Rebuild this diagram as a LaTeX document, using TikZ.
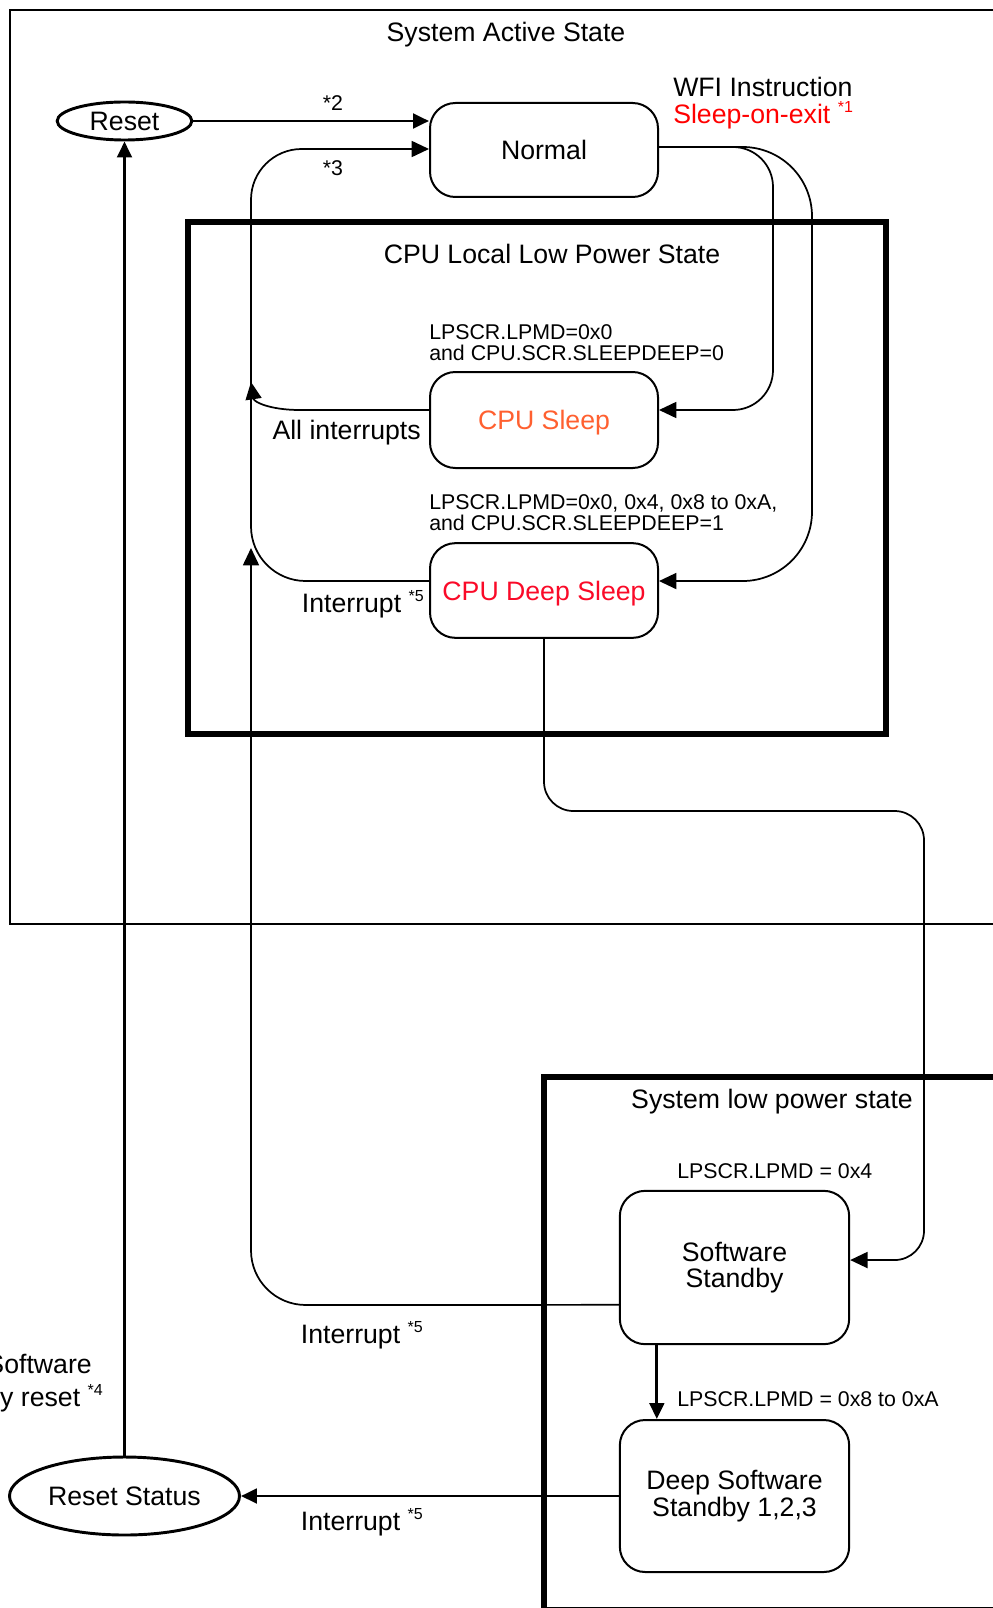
\documentclass[tikz,border=0pt]{standalone}
\usepackage{fontspec}
\setmainfont{Liberation Sans}
\usetikzlibrary{arrows.meta,shapes.geometric}
\definecolor{sleeporange}{RGB}{255,96,48}
\definecolor{deepred}{RGB}{250,10,40}
\newcommand{\supr}[1]{\raisebox{8pt}{\fontsize{12}{12}\selectfont #1}}
\begin{document}
\begin{tikzpicture}[x=0.75pt,y=-0.75pt,
  big/.style={font=\fontsize{20}{20}\selectfont, inner sep=0pt},
  small/.style={font=\fontsize{16}{15.75}\selectfont, inner sep=0pt},
  state/.style={draw, line width=1.5pt, rounded corners=19pt, minimum width=171pt,
    inner sep=0pt, align=center, font=\fontsize{20}{20}\selectfont},
  oval/.style={ellipse, draw, line width=2.2pt, inner sep=0pt, font=\fontsize{20}{20}\selectfont},
  frame/.style={line width=2.2pt},
  heavyframe/.style={line width=5pt},
  thinarr/.style={draw, line width=1.3pt, -{Triangle[length=13pt,width=12pt]}},
  thinline/.style={draw, line width=1.3pt},
  thickarr/.style={draw, line width=2.2pt, -{Triangle[length=12pt,width=11pt]}}]
\useasboundingbox (0,0) rectangle (992,1608);

% frames
\draw[frame] (10,10) rectangle (1010,924);
\draw[heavyframe] (188,222) rectangle (886,734);
\draw[heavyframe] (544,1077) rectangle (1012,1610);

% frame titles
\node[big] (tact) at (506,35) {System Active State};
\node[big] (tcpu) at (552,254) {CPU Local Low Power State};
\node[big] (tlow) at (772,1102) {System low power state};

% states
\node[oval, minimum width=101pt, minimum height=28.5pt] (reset) at (124.5,121) {Reset};
\node[state, minimum height=70.5pt] (normal) at (544,150) {Normal};
\node[state, minimum height=72pt, text depth=0pt, text=sleeporange] (sleep) at (544,420) {CPU Sleep};
\node[state, minimum height=71pt, text depth=0pt, text=deepred] (deep) at (544,590.5) {CPU Deep Sleep};
\node[state, minimum width=172pt, minimum height=115pt] (sws) at (734.5,1267.5) {Software\\Standby};
\node[state, minimum width=172pt, minimum height=114pt] (dss) at (734.5,1496) {Deep Software\\Standby 1,2,3};
\node[oval, minimum width=172.5pt, minimum height=58.5pt] (rstat) at (124.5,1496) {Reset Status};

% labels
\node[small] (l2) at (333,103) {*2};
\node[small] (l3) at (333,168) {*3};
\node[big, anchor=west, align=left] (wfi) at (673,103) {WFI Instruction\\{\color{red}Sleep-on-exit \supr{*1}}};
\node[small, anchor=west, align=left] (cond1) at (429,342.5) {LPSCR.LPMD=0x0\\and CPU.SCR.SLEEPDEEP=0};
\node[small, anchor=west, align=left] (cond2) at (429,512.5) {LPSCR.LPMD=0x0, 0x4, 0x8 to 0xA,\\and CPU.SCR.SLEEPDEEP=1};
\node[big, anchor=east] (allint) at (421,433) {All interrupts};
\node[big, anchor=base east] (int1) at (424,612) {Interrupt \supr{*5}};
\node[big, anchor=base east] (int2) at (423,1343) {Interrupt \supr{*5}};
\node[big, anchor=base east] (int3) at (423,1530) {Interrupt \supr{*5}};
\node[small, anchor=west] (cond3) at (677,1171) {LPSCR.LPMD = 0x4};
\node[small, anchor=west] (cond4) at (677,1399) {LPSCR.LPMD = 0x8 to 0xA};
\node[big, anchor=base east] (swr1) at (92,1373) {Software};
\node[big, anchor=base east] (swr2) at (103,1406) {y reset \supr{*4}};

% junction coordinates on the left return line
\coordinate (junc) at (251,382);
\coordinate (junc2) at (251,548);

% connectors
\draw[thickarr] (reset.east) -- (reset.east -| normal.west);
\draw[thinarr, rounded corners=38pt] (junc) -- (251,149) -- ([yshift=0.75pt]normal.west);
\draw[thinarr] ([yshift=7.5pt]sleep.west) -- (300,410) .. controls (270,410) and (254,402) .. (junc);
\draw[thinline, rounded corners=41pt] ([yshift=7.1pt]deep.west) -- (251,581) -- (junc);
\draw[thinarr, rounded corners=41pt] ([yshift=-28pt]sws.west) -- (251,1305) -- (junc2);
\draw[thinarr, rounded corners=30pt] ([yshift=2.25pt]normal.east) -- (773,147) -- (773,410) -- ([yshift=7.5pt]sleep.east);
\draw[thinarr, rounded corners=52pt] ([yshift=2.25pt]normal.east) -- (812,147) -- (812,581) -- ([yshift=7.1pt]deep.east);
\draw[thinarr, rounded corners=22pt] (deep.south) -- (544,811) -- (924,811) -- (924,1260) -- ([yshift=5.6pt]sws.east);
\draw[thickarr] ([xshift=28.5pt]sws.south west) -- ([xshift=28.5pt]dss.north west);
\draw[thickarr] (dss.west) -- (rstat.east);
\draw[thickarr] (rstat.north) -- (reset.south);
\end{tikzpicture}
\end{document}
